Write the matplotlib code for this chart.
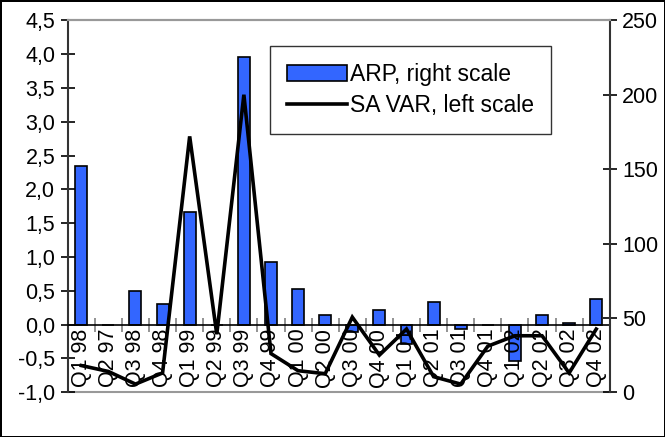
import matplotlib
matplotlib.use("Agg")
import matplotlib.pyplot as plt
from matplotlib.ticker import FuncFormatter, MultipleLocator
import numpy as np

plt.rcParams["font.family"] = ["Liberation Sans", "DejaVu Sans"]

quarters = ["Q1 98", "Q2 97", "Q3 98", "Q4 98", "Q1 99", "Q2 99", "Q3 99", "Q4 99",
            "Q1 00", "Q2 00", "Q3 00", "Q4 00", "Q1 01", "Q2 01", "Q3 01", "Q4 01",
            "Q1 02", "Q2 02", "Q3 02", "Q4 02"]
arp = [2.35, 0.0, 0.50, 0.30, 1.66, 0.0, 3.96, 0.92, 0.53, 0.15,
       -0.11, 0.21, -0.28, 0.33, -0.06, 0.0, -0.53, 0.15, 0.03, 0.38]
sa_var = [18, 14, 5.5, 13, 172, 39, 200, 26, 14.5, 12.5,
          50.5, 25, 42.5, 10.5, 5.5, 31, 38, 38, 13, 42.5]

FS = 15.5
x = np.arange(len(quarters))

fig = plt.figure(figsize=(6.65, 4.37), dpi=100)
fig.patch.set_edgecolor("black")
fig.patch.set_linewidth(2)
ax = fig.add_axes([0.1018, 0.1023, 0.8152, 0.8512])
ax2 = ax.twinx()

ax.bar(x, arp, width=0.44, color="#3366ff", edgecolor="black", linewidth=1.2,
       label="ARP, right scale", zorder=2)
ax2.plot(x, sa_var, color="black", linewidth=2.6, label="SA VAR, left scale",
         solid_joinstyle="miter")

ax.set_xlim(-0.5, len(quarters) - 0.5)
ax.set_ylim(-1.0, 4.5)
ax2.set_ylim(0, 250)
ax.yaxis.set_major_locator(MultipleLocator(0.5))
ax.yaxis.set_major_formatter(FuncFormatter(lambda v, p: f"{v:.1f}".replace(".", ",")))
ax2.yaxis.set_major_locator(MultipleLocator(50))

# category axis sits on the zero line
ax.spines["bottom"].set_position(("data", 0))
ax.spines["bottom"].set_color("black")
ax.spines["bottom"].set_linewidth(1.2)
ax.set_xticks(np.arange(len(quarters) + 1) - 0.5)
ax.set_xticklabels([])
ax.tick_params(axis="x", direction="inout", length=10, color="gray", width=1.2)
ax.axhline(-1.0, color="#999999", linewidth=1.5, clip_on=False, zorder=0)
for i, q in enumerate(quarters):
    ax.text(i, -0.06, q, rotation=90, ha="center", va="top", fontsize=FS)

for a in (ax, ax2):
    a.spines["top"].set_color("#999999")
    a.spines["top"].set_linewidth(1.5)
ax2.spines["bottom"].set_visible(False)
ax.spines["left"].set_color("#333333")
ax.spines["left"].set_linewidth(1.5)
ax2.spines["right"].set_color("#333333")
ax2.spines["right"].set_linewidth(1.5)
ax.spines["right"].set_visible(False)
ax2.spines["left"].set_visible(False)
ax.tick_params(axis="y", direction="inout", length=10, width=1.2, labelsize=FS, pad=4)
ax2.tick_params(axis="y", direction="inout", length=10, width=1.2, labelsize=FS, pad=4)

h1, l1 = ax.get_legend_handles_labels()
h2, l2 = ax2.get_legend_handles_labels()
leg = fig.legend(h1 + h2, l1 + l2, loc="upper left",
                 bbox_to_anchor=(270 / 665, 1 - 46 / 437), fontsize=16.5,
                 fancybox=False, framealpha=1, edgecolor="#333333",
                 handlelength=2.6, handletextpad=0.15, borderpad=0.75,
                 labelspacing=0.35, borderaxespad=0, handleheight=0.65)
leg.get_frame().set_linewidth(1.0)

fig.savefig("out.png", dpi=100)
